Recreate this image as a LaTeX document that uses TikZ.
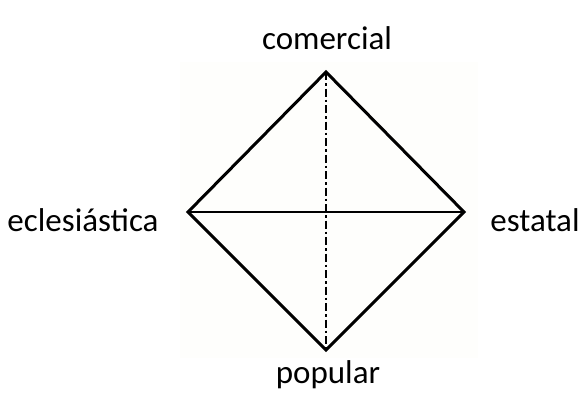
\documentclass[tikz,border=0pt]{standalone}
\usepackage{fontspec}
\setmainfont{Carlito}
\definecolor{bgsq}{RGB}{254,254,252}
\tikzset{
  lbl/.style={font=\fontsize{33}{38}\selectfont, inner sep=0pt},
  edge/.style={line width=3pt, line join=miter},
  axisdd/.style={line width=2.2pt, dash pattern=on 8pt off 3pt on 2.5pt off 3pt}
}
\begin{document}
\begin{tikzpicture}[x=1pt,y=-1pt]
\useasboundingbox (0,0) rectangle (580,392);
\fill[bgsq] (180,62) rectangle (478,358);
\coordinate (t) at (326,72);
\coordinate (b) at (326,350);
\coordinate (l) at (188,212);
\coordinate (r) at (464,212);
\draw[edge] (t) -- (r) -- (b) -- (l) -- cycle;
\draw[edge, line width=2.6pt] (l) -- (r);
\draw[axisdd] (t) -- (b);
\node[lbl] (com) at (327,38) {comercial};
\node[lbl] (ecl) at (83,220) {eclesiástica};
\node[lbl] (est) at (535,220) {estatal};
\node[lbl] (pop) at (328,375) {popular};
\end{tikzpicture}
\end{document}
